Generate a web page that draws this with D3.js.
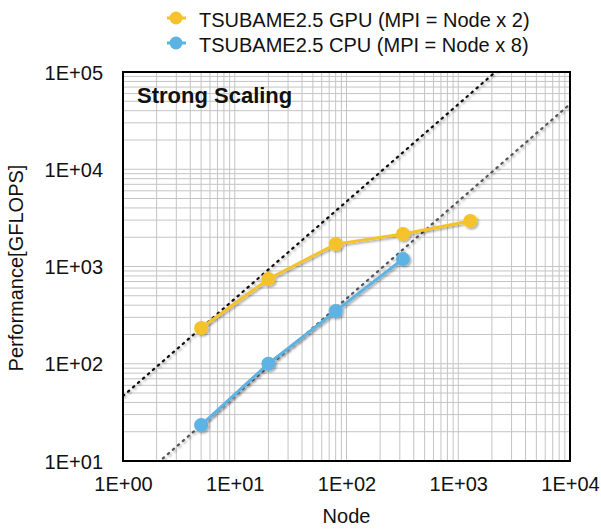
<!DOCTYPE html>
<html>
<head>
<meta charset="utf-8">
<script src="https://cdn.jsdelivr.net/npm/d3@7"></script>
<style>
  body { margin: 0; background: #fff; }
  svg text { font-family: "Liberation Sans", Arial, sans-serif; fill: #111; }
</style>
</head>
<body>
<div id="chart"></div>
<script>
const nodes = [5, 20, 80, 320, 1280];
const gpuPerf = [233, 745, 1700, 2160, 2940];
const cpuNodes = [5, 20, 80, 320];
const cpuPerf = [23.4, 100, 348, 1195];
const xTicks = [1, 10, 100, 1000, 10000];
const yTicks = [10, 100, 1000, 10000, 100000];
const seriesNames = ["TSUBAME2.5 GPU (MPI = Node x 2)", "TSUBAME2.5 CPU (MPI = Node x 8)"];
const colors = ["#F4C22B", "#5BB3E4"];

const W = 601, H = 529;
const margin = { top: 72, right: 31, bottom: 68, left: 123 };
const width = W - margin.left - margin.right;
const height = H - margin.top - margin.bottom;

const svg = d3.select("#chart").append("svg")
  .attr("width", W)
  .attr("height", H);

const defs = svg.append("defs");
const shadow = defs.append("filter").attr("id", "shadow")
  .attr("x", "-20%").attr("y", "-20%").attr("width", "140%").attr("height", "140%");
shadow.append("feDropShadow")
  .attr("dx", 1.5).attr("dy", 1.5).attr("stdDeviation", 1.2)
  .attr("flood-color", "#000").attr("flood-opacity", 0.35);

defs.append("clipPath").attr("id", "clip")
  .append("rect").attr("width", width).attr("height", height);

const g = svg.append("g")
  .attr("transform", `translate(${margin.left},${margin.top})`);

const x = d3.scaleLog().domain([1, 10000]).range([0, width]);
const y = d3.scaleLog().domain([10, 100000]).range([height, 0]);

// grid (major + minor)
const xGrid = x.ticks(40);
const yGrid = y.ticks(40);
g.append("g").selectAll("line").data(xGrid).join("line")
  .attr("x1", d => x(d)).attr("x2", d => x(d))
  .attr("y1", 0).attr("y2", height)
  .attr("stroke", "#c4c4c4").attr("stroke-width", 1);
g.append("g").selectAll("line").data(yGrid).join("line")
  .attr("y1", d => y(d)).attr("y2", d => y(d))
  .attr("x1", 0).attr("x2", width)
  .attr("stroke", "#c4c4c4").attr("stroke-width", 1);

// ideal scaling lines
const ideal = g.append("g").attr("clip-path", "url(#clip)");
const idealDefs = [
  { k: gpuPerf[0] / nodes[0], color: "#111" },
  { k: cpuPerf[0] / cpuNodes[0], color: "#555" }
];
idealDefs.forEach(l => {
  ideal.append("line")
    .attr("x1", x(1)).attr("y1", y(l.k))
    .attr("x2", x(10000)).attr("y2", y(l.k * 10000))
    .attr("stroke", l.color)
    .attr("stroke-width", 2.2)
    .attr("stroke-dasharray", "1.6 5")
    .attr("stroke-linecap", "round")
    .attr("filter", "url(#shadow)");
});

// axes
const fmt = d => "1E+" + String(Math.round(Math.log10(d))).padStart(2, "0");
const xAxis = g.append("g")
  .attr("transform", `translate(0,${height})`)
  .call(d3.axisBottom(x).tickValues(xTicks).tickSize(0).tickPadding(16).tickFormat(fmt));
const yAxis = g.append("g")
  .call(d3.axisLeft(y).tickValues(yTicks).tickSize(0).tickPadding(20).tickFormat(fmt));
[xAxis, yAxis].forEach(a => {
  a.select(".domain").remove();
  a.selectAll("text")
    .style("font-family", "'Liberation Sans', Arial, sans-serif")
    .style("font-size", "20px")
    .attr("fill", "#111");
});
yAxis.selectAll("text").attr("dy", "0.35em");

// border
g.append("rect")
  .attr("width", width).attr("height", height)
  .attr("fill", "none").attr("stroke", "#000").attr("stroke-width", 2);

// series
const line = d3.line().x(d => x(d[0])).y(d => y(d[1]));
const series = [
  d3.zip(nodes, gpuPerf),
  d3.zip(cpuNodes, cpuPerf)
];
series.forEach((pts, i) => {
  const sg = g.append("g").attr("filter", "url(#shadow)");
  sg.append("path").datum(pts)
    .attr("d", line)
    .attr("fill", "none")
    .attr("stroke", colors[i])
    .attr("stroke-width", 3);
  sg.selectAll("circle").data(pts).join("circle")
    .attr("cx", d => x(d[0])).attr("cy", d => y(d[1]))
    .attr("r", 7)
    .attr("fill", colors[i]);
});

// title inside plot
g.append("text")
  .attr("x", 14).attr("y", 31)
  .style("font-size", "22px")
  .style("font-weight", "bold")
  .text("Strong Scaling");

// axis titles
svg.append("text")
  .attr("x", margin.left + width / 2).attr("y", 523)
  .attr("text-anchor", "middle")
  .style("font-size", "20px")
  .text("Node");
svg.append("text")
  .attr("transform", "translate(18,268) rotate(-90)")
  .attr("text-anchor", "middle")
  .attr("dominant-baseline", "middle")
  .style("font-size", "20px")
  .text("Performance[GFLOPS]");

// legend
const legend = svg.append("g").attr("transform", "translate(176,18)");
seriesNames.forEach((name, i) => {
  const li = legend.append("g").attr("transform", `translate(0,${i * 25})`);
  li.append("line")
    .attr("x1", -9).attr("x2", 10)
    .attr("stroke", colors[i]).attr("stroke-width", 3);
  li.append("circle").attr("r", 6.5).attr("fill", colors[i]);
  li.append("text")
    .attr("x", 23).attr("y", 2).attr("dy", "0.35em")
    .style("font-size", "20px")
    .text(name);
});
</script>
</body>
</html>
